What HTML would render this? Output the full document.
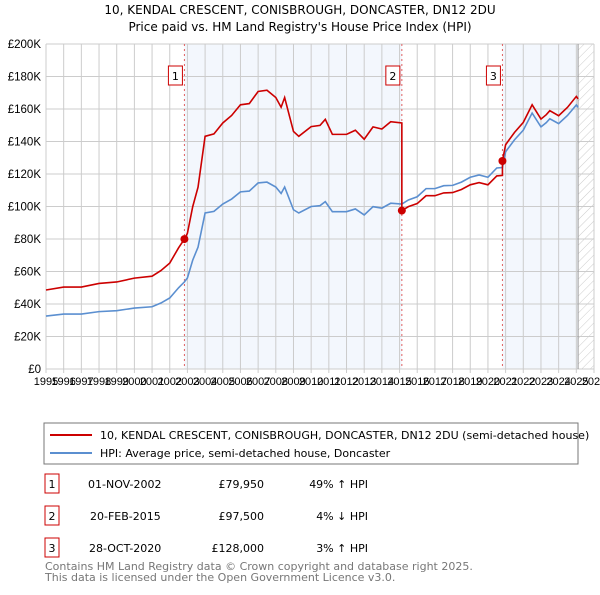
<!DOCTYPE html>
<html><head><meta charset="utf-8"><style>
body{margin:0;background:#fff;font-family:"Liberation Sans","DejaVu Sans",sans-serif;}
svg text{font-family:"DejaVu Sans","Liberation Sans",sans-serif;}
svg text.tk{font-family:"Liberation Sans","DejaVu Sans",sans-serif;}
</style></head><body>
<svg id="c" width="600" height="590" viewBox="0 0 600 590">
<text x="300" y="14" text-anchor="middle" font-size="12" fill="#000">10, KENDAL CRESCENT, CONISBROUGH, DONCASTER, DN12 2DU</text>
<text x="300" y="31" text-anchor="middle" font-size="12" fill="#000">Price paid vs. HM Land Registry's House Price Index (HPI)</text>
<g id="plot"></g>
<rect x="44" y="423" width="534" height="41" fill="#fff" stroke="#777"/>
<line x1="50" y1="435" x2="92" y2="435" stroke="#cc0000" stroke-width="2"/>
<text x="100" y="439" font-size="11">10, KENDAL CRESCENT, CONISBROUGH, DONCASTER, DN12 2DU (semi-detached house)</text>
<line x1="50" y1="453" x2="92" y2="453" stroke="#5b8fd0" stroke-width="2"/>
<text x="100" y="457" font-size="11">HPI: Average price, semi-detached house, Doncaster</text>
<g font-size="11">
<rect x="45" y="474" width="14" height="19" fill="#fff" stroke="#cc0000"/><text x="52" y="488" text-anchor="middle">1</text>
<text x="88" y="488">01-NOV-2002</text><text x="264" y="488" text-anchor="end">£79,950</text><text x="368" y="488" text-anchor="end">49% ↑ HPI</text>
<rect x="45" y="506" width="14" height="19" fill="#fff" stroke="#cc0000"/><text x="52" y="520" text-anchor="middle">2</text>
<text x="90" y="520">20-FEB-2015</text><text x="264" y="520" text-anchor="end">£97,500</text><text x="368" y="520" text-anchor="end">4% ↓ HPI</text>
<rect x="45" y="538" width="14" height="19" fill="#fff" stroke="#cc0000"/><text x="52" y="552" text-anchor="middle">3</text>
<text x="89" y="552">28-OCT-2020</text><text x="264" y="552" text-anchor="end">£128,000</text><text x="368" y="552" text-anchor="end">3% ↑ HPI</text>
</g>
<text x="45" y="570" font-size="11" fill="#777">Contains HM Land Registry data © Crown copyright and database right 2025.</text>
<text x="45" y="581" font-size="11" fill="#777">This data is licensed under the Open Government Licence v3.0.</text>
</svg>
<script>
const hpiYears=[1995,1996,1997,1998,1999,2000,2001,2001.5,2002,2002.5,2002.83,2003,2003.3,2003.6,2004,2004.5,2005,2005.5,2006,2006.5,2007,2007.5,2008,2008.3,2008.5,2009,2009.3,2010,2010.5,2010.8,2011.2,2012,2012.5,2013,2013.5,2014,2014.5,2015.13,2015.5,2016,2016.5,2017,2017.5,2018,2018.5,2019,2019.5,2020,2020.5,2020.82,2021,2021.5,2022,2022.5,2023,2023.3,2023.5,2024,2024.5,2025,2025.1];
const hpiValues=[32.6,33.8,33.8,35.3,35.9,37.5,38.3,40.6,43.7,50,53.6,56,67,75,96,97,101.5,104.6,109,109.5,114.5,115,112,108,112,98,96,100,100.5,103,96.8,96.8,98.5,94.8,99.9,99,102,101.5,104,106,111,111,112.8,113,115,118,119.4,118,123.7,124,133.7,141,147,157.5,149,151.6,154,151,156,162.5,161];
const saleYears=[2002.83,2015.13,2020.82];
const salePrices=[79.95,97.5,128];
const saleLabels=["1","2","3"];
const yTicks=[0,20,40,60,80,100,120,140,160,180,200];
const xTicks=[1995,1996,1997,1998,1999,2000,2001,2002,2003,2004,2005,2006,2007,2008,2009,2010,2011,2012,2013,2014,2015,2016,2017,2018,2019,2020,2021,2022,2023,2024,2025,2026];
const dataEnd=2025.1;
const X0=46,X1=594,Y0=369,Y1=44;
const xs=y=>X0+(y-1995)/(2026-1995)*(X1-X0);
const ys=v=>Y0-v/200*(Y0-Y1);
const NS="http://www.w3.org/2000/svg";
const g=document.getElementById('plot');
function mk(t,a){const e=document.createElementNS(NS,t);for(const k in a)e.setAttribute(k,a[k]);g.appendChild(e);return e;}
function hpiAt(y){for(let i=1;i<hpiYears.length;i++){if(y<=hpiYears[i]){const t=(y-hpiYears[i-1])/(hpiYears[i]-hpiYears[i-1]);return hpiValues[i-1]+t*(hpiValues[i]-hpiValues[i-1]);}}return hpiValues[hpiValues.length-1];}
let b=mk('rect',{x:xs(saleYears[0]),y:Y1,width:xs(saleYears[1])-xs(saleYears[0]),height:Y0-Y1,fill:'#eef3fc',opacity:0.7});


b=mk('rect',{x:xs(saleYears[2]),y:Y1,width:xs(dataEnd)-xs(saleYears[2]),height:Y0-Y1,fill:'#eef3fc',opacity:0.7});


const defs=mk('defs',{});
defs.innerHTML='<pattern id="h" width="6" height="6" patternUnits="userSpaceOnUse" patternTransform="rotate(45)"><line x1="0" y1="0" x2="0" y2="6" stroke="#ccc" stroke-width="1"/></pattern>';
let hr=mk('rect',{x:xs(dataEnd),y:Y1,width:X1-xs(dataEnd),height:Y0-Y1,fill:'url(#h)'});


yTicks.forEach(v=>{
 const l=mk('line',{x1:X0,x2:X1,y1:ys(v),y2:ys(v),stroke:'#ccc'});
 
 
 const t=mk('text',{x:X0-5,y:ys(v)+4,'text-anchor':'end','font-size':'11.5','class':'tk'});
 t.textContent=v===0?'£0':'£'+v+'K';
 
 
});
xTicks.forEach(y=>{
 const l=mk('line',{x1:xs(y),x2:xs(y),y1:Y1,y2:Y0+4,stroke:'#ccc'});
 
 
 const t=mk('text',{x:xs(y),y:Y0+16,'text-anchor':'middle','font-size':'11','class':'tk'});
 t.textContent=y;
 
 
});
mk('line',{x1:xs(dataEnd),x2:xs(dataEnd),y1:Y1,y2:Y0,stroke:'#999'});
saleYears.forEach((s,i)=>{
 const l=mk('line',{x1:xs(s),x2:xs(s),y1:Y1,y2:Y0,stroke:'#e06060','stroke-dasharray':'2,3'});
 
 
 const r=mk('rect',{x:xs(s)-16,y:66,width:14,height:19,fill:'#fff',stroke:'#cc0000'});
 
 
 const t=mk('text',{x:xs(s)-9,y:80,'text-anchor':'middle','font-size':'11'});
 t.textContent=saleLabels[i];
 
 
});
const hp=mk('polyline',{points:hpiYears.map((y,i)=>xs(y)+','+ys(hpiValues[i])).join(' '),fill:'none',stroke:'#5b8fd0','stroke-width':1.6});


const ratios=saleYears.map((s,i)=>salePrices[i]/hpiAt(s));
function ratioAt(y){let r=ratios[0];saleYears.forEach((s,i)=>{if(y>=s)r=ratios[i];});return r;}
let pts=[];
hpiYears.forEach((y,i)=>{
 saleYears.forEach((s,j)=>{if(j>0&&hpiYears[i-1]<s&&y>=s){pts.push([s,hpiAt(s)*ratios[j-1]]);pts.push([s,salePrices[j]]);}});
 pts.push([y,hpiValues[i]*ratioAt(y)]);
});
const pp=mk('polyline',{points:pts.map(p=>xs(p[0])+','+ys(p[1])).join(' '),fill:'none',stroke:'#cc0000','stroke-width':1.6});


saleYears.forEach((s,i)=>{
 const c=mk('circle',{cx:xs(s),cy:ys(salePrices[i]),r:4,fill:'#cc0000'});
 
 
});
</script>
</body></html>
